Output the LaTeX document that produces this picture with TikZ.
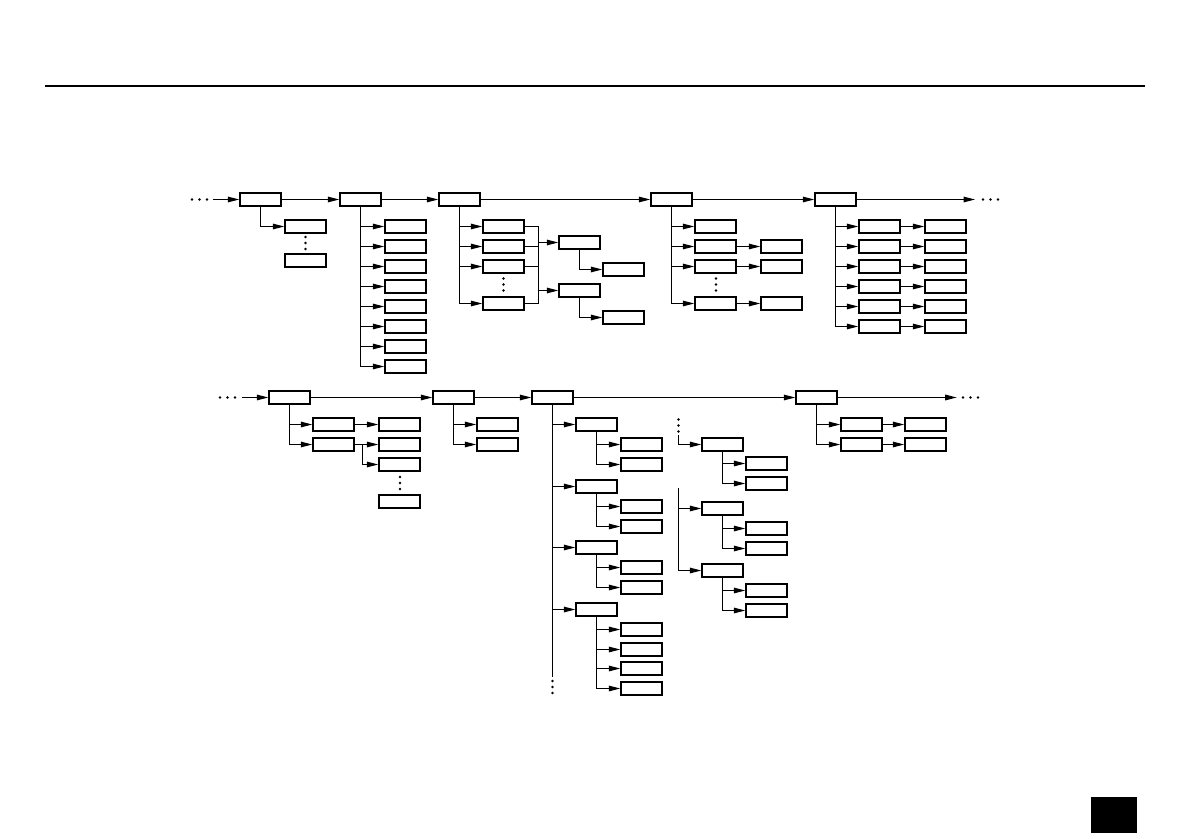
\documentclass[tikz,border=0pt]{standalone}
\usetikzlibrary{arrows.meta}
\tikzset{
  box/.style={draw, line width=1.5bp, minimum width=41bp, minimum height=13bp, inner sep=0pt},
  arr/.style={-{Triangle[length=11.5bp,width=5.6bp]}},
}
% three small dots, vertical / horizontal
\newcommand{\dotsdown}[2]{\foreach \d in {-6,0,6} \fill (#1,#2+\d) circle (1.4bp);}
\newcommand{\dotsacross}[2]{\foreach \d in {-7.5,0,7.5} \fill (#1+\d,#2) circle (1.4bp);}

\begin{document}
\begin{tikzpicture}[x=1bp, y=-1bp, line width=1.1bp]
  \useasboundingbox (0,0) rectangle (1191,839);
  \draw[line width=2bp] (45,85.5) -- (1145,85.5);
  \fill (1091,797) rectangle (1137,833);

  % upper chain
  \coordinate (m0) at (213,199.5);
  \node[box] (m1) at (260.5,199.5) {};
  \node[box] (m2) at (360.5,199.5) {};
  \node[box] (m3) at (459.5,199.5) {};
  \node[box] (m4) at (671.5,199.5) {};
  \node[box] (m5) at (835.5,199.5) {};
  \coordinate (m6) at (975,199.5);
  \dotsacross{199.5}{199.5}
  \dotsacross{990.5}{199.5}
  \draw[arr] (m0) -- (m1);
  \draw[arr] (m1) -- (m2);
  \draw[arr] (m2) -- (m3);
  \draw[arr] (m3) -- (m4);
  \draw[arr] (m4) -- (m5);
  \draw[arr] (m5) -- (m6);

  \node[box] (m1a) at (305.5,226.5) {};
  \node[box] (m1b) at (305.5,260.5) {};
  \draw[arr] (m1.south) |- (m1a);
  \dotsdown{305.5}{243}

  \foreach \i in {1,...,8}
    \node[box] (m2c\i) at (405.5,206.5+20*\i) {};
  \draw (m2.south) -- (m2.south |- m2c8);
  \foreach \i in {1,...,8}
    \draw[arr] (m2.south |- m2c\i) -- (m2c\i);

  \foreach \i/\y in {1/226.5,2/246.5,3/266.5,4/303.5}
    \node[box] (m3c\i) at (503.5,\y) {};
  \draw (m3.south) -- (m3.south |- m3c4);
  \foreach \i in {1,...,4}
    \draw[arr] (m3.south |- m3c\i) -- (m3c\i);
  \dotsdown{503.5}{284.5}
  \coordinate (m3t) at (538.5,226.5);
  \coordinate (m3u) at (538.5,303.5);
  \draw (m3c1.east) -- (m3t) -- (m3u) -- (m3c4.east);
  \draw (m3c2.east) -- (m3c2.east -| m3t);
  \draw (m3c3.east) -- (m3c3.east -| m3t);
  \node[box] (m3d1) at (579.5,242.5) {};
  \node[box] (m3d2) at (579.5,290.5) {};
  \node[box] (m3e1) at (623.5,269.5) {};
  \node[box] (m3e2) at (623.5,317.5) {};
  \draw[arr] (m3d1.west -| m3t) -- (m3d1);
  \draw[arr] (m3d2.west -| m3t) -- (m3d2);
  \draw[arr] (m3d1.south) |- (m3e1);
  \draw[arr] (m3d2.south) |- (m3e2);

  \foreach \i/\y in {1/226.5,2/246.5,3/266.5,4/303.5}
    \node[box] (m4c\i) at (715.5,\y) {};
  \draw (m4.south) -- (m4.south |- m4c4);
  \foreach \i in {1,...,4}
    \draw[arr] (m4.south |- m4c\i) -- (m4c\i);
  \dotsdown{716}{284.5}
  \foreach \i/\y in {2/246.5,3/266.5,4/303.5} {
    \node[box] (m4d\i) at (781.5,\y) {};
    \draw[arr] (m4c\i) -- (m4d\i);
  }

  \foreach \i in {1,...,6} {
    \node[box] (m5c\i) at (879.5,206.5+20*\i) {};
    \node[box] (m5d\i) at (945.5,206.5+20*\i) {};
    \draw[arr] (m5c\i) -- (m5d\i);
  }
  \draw (m5.south) -- (m5.south |- m5c6);
  \foreach \i in {1,...,6}
    \draw[arr] (m5.south |- m5c\i) -- (m5c\i);

  % lower chain
  \coordinate (n0) at (241.7,397.5);
  \node[box] (n1) at (289.5,397.5) {};
  \node[box] (n2) at (453.5,397.5) {};
  \node[box] (n3) at (552.5,397.5) {};
  \node[box] (n4) at (816.5,397.5) {};
  \coordinate (n5) at (956.7,397.5);
  \dotsacross{227.5}{397.5}
  \dotsacross{970.5}{397.5}
  \draw[arr] (n0) -- (n1);
  \draw[arr] (n1) -- (n2);
  \draw[arr] (n2) -- (n3);
  \draw[arr] (n3) -- (n4);
  \draw[arr] (n4) -- (n5);

  \node[box] (n1a) at (333.5,424.5) {};
  \node[box] (n1b) at (333.5,444.5) {};
  \draw (n1.south) -- (n1.south |- n1b);
  \draw[arr] (n1.south |- n1a) -- (n1a);
  \draw[arr] (n1.south |- n1b) -- (n1b);
  \foreach \i/\y in {1/424.5,2/444.5,3/464.5,4/501.5}
    \node[box] (n1d\i) at (399.5,\y) {};
  \dotsdown{400}{483}
  \coordinate (n1j) at (362.5,444.5);
  \draw[arr] (n1a) -- (n1d1);
  \draw[arr] (n1b) -- (n1d2);
  \draw[arr] (n1j) |- (n1d3);

  \node[box] (n2a) at (497.5,424.5) {};
  \node[box] (n2b) at (497.5,444.5) {};
  \draw (n2.south) -- (n2.south |- n2b);
  \draw[arr] (n2.south |- n2a) -- (n2a);
  \draw[arr] (n2.south |- n2b) -- (n2b);

  \coordinate (n3z) at (552.5,677);
  \draw (n3.south) -- (n3z);
  \dotsdown{552.5}{687}
  \foreach \i/\y in {1/424.5,2/486.5,3/547.5,4/609.5} {
    \node[box] (n3c\i) at (596.5,\y) {};
    \draw[arr] (n3z |- n3c\i) -- (n3c\i);
  }
  \foreach \p/\n/\a/\b/\c/\d in {1/2/444.5/464.5/0/0,2/2/506.5/526.5/0/0,3/2/567.5/587.5/0/0,
                                4/4/629.5/649.5/668.5/688.5} {
    \node[box] (n3c\p s1) at (641.5,\a) {};
    \node[box] (n3c\p s2) at (641.5,\b) {};
    \ifnum\n=4
      \node[box] (n3c\p s3) at (641.5,\c) {};
      \node[box] (n3c\p s4) at (641.5,\d) {};
    \fi
    \draw (n3c\p.south) -- (n3c\p.south |- n3c\p s\n);
    \foreach \i in {1,...,\n}
      \draw[arr] (n3c\p.south |- n3c\p s\i) -- (n3c\p s\i);
  }

  \dotsdown{678.5}{425.5}
  \coordinate (n3p) at (678.5,435);
  \coordinate (n3q) at (678.5,488);
  \node[box] (n3e1) at (722.5,444.5) {};
  \node[box] (n3e2) at (722.5,508.5) {};
  \node[box] (n3e3) at (722.5,570.5) {};
  \draw[arr] (n3p) |- (n3e1);
  \draw (n3q) -- (n3q |- n3e3);
  \draw[arr] (n3q |- n3e2) -- (n3e2);
  \draw[arr] (n3q |- n3e3) -- (n3e3);
  \foreach \p/\a/\b in {1/463.5/483.5,2/528.5/548.5,3/590.5/610.5} {
    \node[box] (n3e\p s1) at (766.5,\a) {};
    \node[box] (n3e\p s2) at (766.5,\b) {};
    \draw (n3e\p.south) -- (n3e\p.south |- n3e\p s2);
    \draw[arr] (n3e\p.south |- n3e\p s1) -- (n3e\p s1);
    \draw[arr] (n3e\p.south |- n3e\p s2) -- (n3e\p s2);
  }

  \foreach \i/\y in {1/424.5,2/444.5} {
    \node[box] (n4c\i) at (861.5,\y) {};
    \node[box] (n4d\i) at (925.5,\y) {};
    \draw[arr] (n4c\i) -- (n4d\i);
  }
  \draw (n4.south) -- (n4.south |- n4c2);
  \draw[arr] (n4.south |- n4c1) -- (n4c1);
  \draw[arr] (n4.south |- n4c2) -- (n4c2);
\end{tikzpicture}
\end{document}
